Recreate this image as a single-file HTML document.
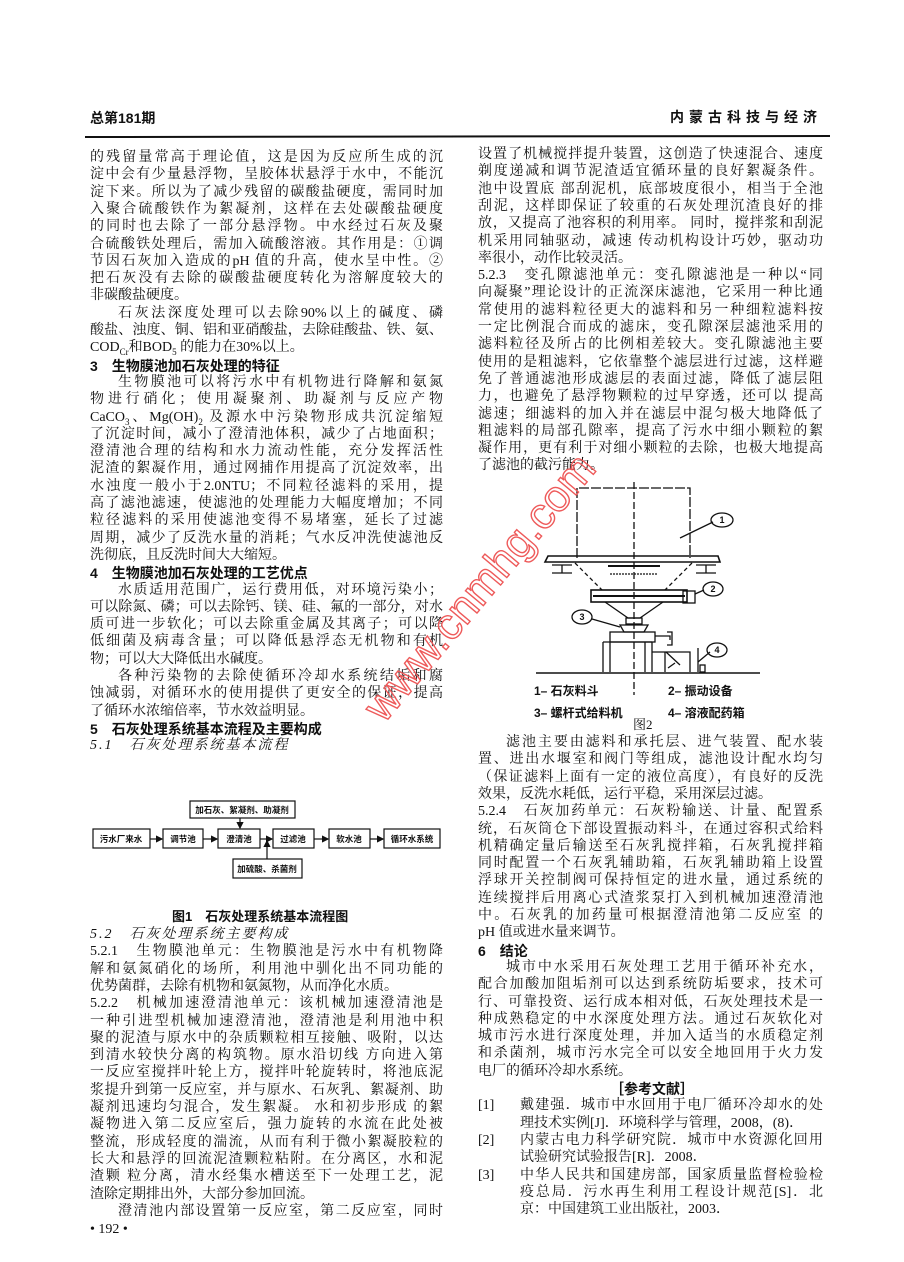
<!DOCTYPE html>
<html><head><meta charset="utf-8">
<style>
html,body{margin:0;padding:0;background:#fff;}
body{width:904px;height:1262px;position:relative;overflow:hidden;font-family:"Liberation Serif","Noto Serif CJK SC","Noto Sans CJK SC",serif;color:#111;}
.l{position:absolute;height:18px;line-height:18px;font-size:14px;white-space:nowrap;}
.L{left:90px;width:353px;}
.R{left:478px;width:345px;}
.j{text-align:justify;text-align-last:justify;}
.i{padding-left:28px;box-sizing:border-box;}
.b{font-weight:bold;font-family:"Liberation Sans","Noto Sans CJK SC",sans-serif;}
.k{font-style:italic;letter-spacing:2px;}
sub{font-size:9px;line-height:0;}
svg{position:absolute;left:0;top:0;}
.wm{position:absolute;left:354px;top:699px;font-family:"Liberation Sans",sans-serif;font-size:44px;line-height:50px;color:transparent;-webkit-text-stroke:1.4px #ee5a5a;transform:rotate(-50deg);transform-origin:left top;white-space:nowrap;}
</style></head><body>

<div class="l b" style="left:90px;top:109px;">总第181期</div>
<div class="l b" style="left:670px;top:108px;letter-spacing:5px;">内蒙古科技与经济</div>

<!-- Left column -->
<div class="l L j" style="top:149px">的残留量常高于理论值，这是因为反应所生成的沉</div>
<div class="l L j" style="top:166.3px">淀中会有少量悬浮物，呈胶体状悬浮于水中，不能沉</div>
<div class="l L j" style="top:183.6px">淀下来。所以为了减少残留的碳酸盐硬度，需同时加</div>
<div class="l L j" style="top:200.9px">入聚合硫酸铁作为絮凝剂，这样在去处碳酸盐硬度</div>
<div class="l L j" style="top:218.2px">的同时也去除了一部分悬浮物。中水经过石灰及聚</div>
<div class="l L j" style="top:235.5px">合硫酸铁处理后，需加入硫酸溶液。其作用是：①调</div>
<div class="l L j" style="top:252.8px">节因石灰加入造成的pH 值的升高，使水呈中性。②</div>
<div class="l L j" style="top:270.1px">把石灰没有去除的碳酸盐硬度转化为溶解度较大的</div>
<div class="l L" style="top:287.4px">非碳酸盐硬度。</div>
<div class="l L j i" style="top:304.7px">石灰法深度处理可以去除90%以上的碱度、磷</div>
<div class="l L j" style="top:322px">酸盐、浊度、铜、铝和亚硝酸盐，去除硅酸盐、铁、氨、</div>
<div class="l L" style="top:339.3px">COD<sub>Cr</sub>和BOD<sub>5</sub> 的能力在30%以上。</div>
<div class="l L b" style="top:356.6px">3　生物膜池加石灰处理的特征</div>
<div class="l L j i" style="top:373.9px">生物膜池可以将污水中有机物进行降解和氨氮</div>
<div class="l L j" style="top:391.2px">物进行硝化；使用凝聚剂、助凝剂与反应产物</div>
<div class="l L j" style="top:408.5px">CaCO<sub>3</sub>、Mg(OH)<sub>2</sub> 及源水中污染物形成共沉淀缩短</div>
<div class="l L j" style="top:425.8px">了沉淀时间，减小了澄清池体积，减少了占地面积；</div>
<div class="l L j" style="top:443.1px">澄清池合理的结构和水力流动性能，充分发挥活性</div>
<div class="l L j" style="top:460.4px">泥渣的絮凝作用，通过网捕作用提高了沉淀效率，出</div>
<div class="l L j" style="top:477.7px">水浊度一般小于2.0NTU；不同粒径滤料的采用，提</div>
<div class="l L j" style="top:495px">高了滤池滤速，使滤池的处理能力大幅度增加；不同</div>
<div class="l L j" style="top:512.3px">粒径滤料的采用使滤池变得不易堵塞，延长了过滤</div>
<div class="l L j" style="top:529.6px">周期，减少了反洗水量的消耗；气水反冲洗使滤池反</div>
<div class="l L" style="top:546.9px">洗彻底，且反洗时间大大缩短。</div>
<div class="l L b" style="top:564.2px">4　生物膜池加石灰处理的工艺优点</div>
<div class="l L j i" style="top:581.5px">水质适用范围广，运行费用低，对环境污染小；</div>
<div class="l L j" style="top:598.8px">可以除氮、磷；可以去除钙、镁、硅、氟的一部分，对水</div>
<div class="l L j" style="top:616.1px">质可进一步软化；可以去除重金属及其离子；可以降</div>
<div class="l L j" style="top:633.4px">低细菌及病毒含量；可以降低悬浮态无机物和有机</div>
<div class="l L" style="top:650.7px">物；可以大大降低出水碱度。</div>
<div class="l L j i" style="top:668px">各种污染物的去除使循环冷却水系统结垢和腐</div>
<div class="l L j" style="top:685.3px">蚀减弱，对循环水的使用提供了更安全的保证，提高</div>
<div class="l L" style="top:702.6px">了循环水浓缩倍率，节水效益明显。</div>
<div class="l L b" style="top:719.9px">5　石灰处理系统基本流程及主要构成</div>
<div class="l L k" style="top:737.2px">5.1　石灰处理系统基本流程</div>

<div class="l b" style="left:172px;top:908px;font-size:13px;">图1　石灰处理系统基本流程图</div>
<div class="l L k" style="top:926px">5.2　石灰处理系统主要构成</div>
<div class="l L j" style="top:943.3px">5.2.1　生物膜池单元：生物膜池是污水中有机物降</div>
<div class="l L j" style="top:960.6px">解和氨氮硝化的场所，利用池中驯化出不同功能的</div>
<div class="l L" style="top:977.9px">优势菌群，去除有机物和氨氮物，从而净化水质。</div>
<div class="l L j" style="top:995.2px">5.2.2　机械加速澄清池单元：该机械加速澄清池是</div>
<div class="l L j" style="top:1012.5px">一种引进型机械加速澄清池，澄清池是利用池中积</div>
<div class="l L j" style="top:1029.8px">聚的泥渣与原水中的杂质颗粒相互接触、吸附，以达</div>
<div class="l L j" style="top:1047.1px">到清水较快分离的构筑物。原水沿切线 方向进入第</div>
<div class="l L j" style="top:1064.4px">一反应室搅拌叶轮上方，搅拌叶轮旋转时，将池底泥</div>
<div class="l L j" style="top:1081.7px">浆提升到第一反应室，并与原水、石灰乳、絮凝剂、助</div>
<div class="l L j" style="top:1099px">凝剂迅速均匀混合，发生絮凝。 水和初步形成 的絮</div>
<div class="l L j" style="top:1116.3px">凝物进入第二反应室后，强力旋转的水流在此处被</div>
<div class="l L j" style="top:1133.6px">整流，形成轻度的湍流，从而有利于微小絮凝胶粒的</div>
<div class="l L j" style="top:1150.9px">长大和悬浮的回流泥渣颗粒粘附。在分离区，水和泥</div>
<div class="l L j" style="top:1168.2px">渣颗 粒分离，清水经集水槽送至下一处理工艺，泥</div>
<div class="l L" style="top:1185.5px">渣除定期排出外，大部分参加回流。</div>
<div class="l L j i" style="top:1202.8px">澄清池内部设置第一反应室，第二反应室，同时</div>
<div class="l" style="left:90px;top:1221px;">• 192 •</div>

<!-- Right column -->
<div class="l R j" style="top:146px">设置了机械搅拌提升装置，这创造了快速混合、速度</div>
<div class="l R j" style="top:163.3px">剃度递减和调节泥渣适宜循环量的良好絮凝条件。</div>
<div class="l R j" style="top:180.6px">池中设置底 部刮泥机，底部坡度很小，相当于全池</div>
<div class="l R j" style="top:197.9px">刮泥，这样即保证了较重的石灰处理沉渣良好的排</div>
<div class="l R j" style="top:215.2px">放，又提高了池容积的利用率。 同时，搅拌浆和刮泥</div>
<div class="l R j" style="top:232.5px">机采用同轴驱动，减速 传动机构设计巧妙，驱动功</div>
<div class="l R" style="top:249.8px">率很小，动作比较灵活。</div>
<div class="l R j" style="top:267.1px">5.2.3　变孔隙滤池单元：变孔隙滤池是一种以“同</div>
<div class="l R j" style="top:284.4px">向凝聚”理论设计的正流深床滤池，它采用一种比通</div>
<div class="l R j" style="top:301.7px">常使用的滤料粒径更大的滤料和另一种细粒滤料按</div>
<div class="l R j" style="top:319px">一定比例混合而成的滤床，变孔隙深层滤池采用的</div>
<div class="l R j" style="top:336.3px">滤料粒径及所占的比例相差较大。变孔隙滤池主要</div>
<div class="l R j" style="top:353.6px">使用的是粗滤料，它依靠整个滤层进行过滤，这样避</div>
<div class="l R j" style="top:370.9px">免了普通滤池形成滤层的表面过滤，降低了滤层阻</div>
<div class="l R j" style="top:388.2px">力，也避免了悬浮物颗粒的过早穿透，还可以 提高</div>
<div class="l R j" style="top:405.5px">滤速；细滤料的加入并在滤层中混匀极大地降低了</div>
<div class="l R j" style="top:422.8px">粗滤料的局部孔隙率，提高了污水中细小颗粒的絮</div>
<div class="l R j" style="top:440.1px">凝作用，更有利于对细小颗粒的去除，也极大地提高</div>
<div class="l R" style="top:457.4px">了滤池的截污能力。</div>

<div class="l b" style="left:534px;top:682px;font-size:12px;">1– 石灰料斗</div>
<div class="l b" style="left:668px;top:682px;font-size:12px;">2– 振动设备</div>
<div class="l b" style="left:534px;top:704px;font-size:12px;">3– 螺杆式给料机</div>
<div class="l b" style="left:668px;top:704px;font-size:12px;">4– 溶液配药箱</div>
<div class="l" style="left:633px;top:716px;font-size:13px;">图2</div>

<div class="l R j i" style="top:734px">滤池主要由滤料和承托层、进气装置、配水装</div>
<div class="l R j" style="top:751.3px">置、进出水堰室和阀门等组成，滤池设计配水均匀</div>
<div class="l R j" style="top:768.6px">（保证滤料上面有一定的液位高度），有良好的反洗</div>
<div class="l R" style="top:785.9px">效果，反洗水耗低，运行平稳，采用深层过滤。</div>
<div class="l R j" style="top:803.2px">5.2.4　石灰加药单元：石灰粉输送、计量、配置系</div>
<div class="l R j" style="top:820.5px">统，石灰筒仓下部设置振动料斗，在通过容积式给料</div>
<div class="l R j" style="top:837.8px">机精确定量后输送至石灰乳搅拌箱，石灰乳搅拌箱</div>
<div class="l R j" style="top:855.1px">同时配置一个石灰乳辅助箱，石灰乳辅助箱上设置</div>
<div class="l R j" style="top:872.4px">浮球开关控制阀可保持恒定的进水量，通过系统的</div>
<div class="l R j" style="top:889.7px">连续搅拌后用离心式渣浆泵打入到机械加速澄清池</div>
<div class="l R j" style="top:907px">中。石灰乳的加药量可根据澄清池第二反应室 的</div>
<div class="l R" style="top:924.3px">pH 值或进水量来调节。</div>
<div class="l R b" style="top:941.6px">6　结论</div>
<div class="l R j i" style="top:958.9px">城市中水采用石灰处理工艺用于循环补充水，</div>
<div class="l R j" style="top:976.2px">配合加酸加阻垢剂可以达到系统防垢要求，技术可</div>
<div class="l R j" style="top:993.5px">行、可靠投资、运行成本相对低，石灰处理技术是一</div>
<div class="l R j" style="top:1010.8px">种成熟稳定的中水深度处理方法。通过石灰软化对</div>
<div class="l R j" style="top:1028.1px">城市污水进行深度处理，并加入适当的水质稳定剂</div>
<div class="l R j" style="top:1045.4px">和杀菌剂，城市污水完全可以安全地回用于火力发</div>
<div class="l R" style="top:1062.7px">电厂的循环冷却水系统。</div>
<div class="l b" style="left:610px;top:1080px;">［参考文献］</div>
<div class="l" style="left:478px;top:1097.3px">[1]</div>
<div class="l j" style="left:520px;width:303px;top:1097.3px">戴建强．城市中水回用于电厂循环冷却水的处</div>
<div class="l" style="left:520px;top:1114.6px">理技术实例[J]．环境科学与管理，2008，(8)．</div>
<div class="l" style="left:478px;top:1131.9px">[2]</div>
<div class="l j" style="left:520px;width:303px;top:1131.9px">内蒙古电力科学研究院．城市中水资源化回用</div>
<div class="l" style="left:520px;top:1149.2px">试验研究试验报告[R]．2008．</div>
<div class="l" style="left:478px;top:1166.5px">[3]</div>
<div class="l j" style="left:520px;width:303px;top:1166.5px">中华人民共和国建房部，国家质量监督检验检</div>
<div class="l j" style="left:520px;width:303px;top:1183.8px">疫总局．污水再生利用工程设计规范[S]．北</div>
<div class="l" style="left:520px;top:1201.1px">京：中国建筑工业出版社，2003．</div>

<svg width="904" height="1262" viewBox="0 0 904 1262">
<defs><marker id="a" markerWidth="6" markerHeight="6" refX="5" refY="3" orient="auto"><path d="M0,0 L6,3 L0,6 z" fill="#111"/></marker></defs>
<line x1="85" y1="137" x2="830" y2="136" stroke="#111" stroke-width="2"/>
<!-- Flowchart -->
<g stroke="#111" stroke-width="1.2" fill="none">
<rect x="190" y="801" width="105" height="17"/>
<rect x="93" y="829" width="57" height="19"/>
<rect x="163" y="829" width="40" height="19"/>
<rect x="218" y="829" width="42" height="19"/>
<rect x="273" y="829" width="41" height="19"/>
<rect x="329" y="829" width="41" height="19"/>
<rect x="384" y="829" width="56" height="19"/>
<rect x="233" y="859" width="69" height="19"/>
<line x1="150" y1="839" x2="162" y2="839" marker-end="url(#a)"/>
<line x1="203" y1="839" x2="217" y2="839" marker-end="url(#a)"/>
<line x1="260" y1="839" x2="272" y2="839" marker-end="url(#a)"/>
<line x1="314" y1="839" x2="328" y2="839" marker-end="url(#a)"/>
<line x1="370" y1="839" x2="383" y2="839" marker-end="url(#a)"/>
<line x1="240" y1="818" x2="240" y2="828" marker-end="url(#a)"/>
<line x1="267" y1="859" x2="267" y2="841" marker-end="url(#a)"/>
</g>
<g font-family="Liberation Sans,Noto Sans CJK SC,sans-serif" font-size="8.5" font-weight="bold" fill="#111" text-anchor="middle">
<text x="242" y="813">加石灰、絮凝剂、助凝剂</text>
<text x="121" y="842">污水厂来水</text>
<text x="183" y="842">调节池</text>
<text x="239" y="842">澄清池</text>
<text x="293" y="842">过滤池</text>
<text x="349" y="842">软水池</text>
<text x="412" y="842">循环水系统</text>
<text x="267" y="872">加硫酸、杀菌剂</text>
</g>
<!-- Figure 2 -->
<g stroke="#111" stroke-width="1.3" fill="none">
<line x1="634" y1="482" x2="634" y2="695" stroke-dasharray="7,3"/>
<path d="M577,558 L577,488 L690,488 L690,558" stroke-dasharray="10,2"/>
<path d="M548,556 L718,556 L720,562 L545,562 Z" stroke-width="1.6"/>
<path d="M552,565 L572,565 M562,565 L562,573 M552,573 L572,573"/>
<path d="M696,565 L716,565 M706,565 L706,573 M696,573 L716,573"/>
<line x1="575" y1="563" x2="602" y2="590" stroke-dasharray="4,3"/>
<line x1="692" y1="563" x2="665" y2="590" stroke-dasharray="4,3"/>
<line x1="608" y1="566" x2="660" y2="566" stroke-width="2"/>
<line x1="610" y1="574" x2="658" y2="574" stroke-dasharray="2,1"/>
<rect x="591" y="590" width="96" height="12" stroke-width="1.6"/>
<line x1="593" y1="596" x2="685" y2="596" stroke-width="2"/>
<rect x="683" y="591" width="12" height="12"/>
<path d="M605,602 L628,618 L640,618 L663,602"/>
<rect x="626" y="618" width="16" height="6"/>
<path d="M620,625 L648,625 L644,632 L624,632 Z"/>
<rect x="610" y="632" width="45" height="10"/>
<path d="M655,636 L670,636 L670,640 M667,632 L672,632 L672,645 L667,645"/>
<path d="M603,642 L603,672 M610,642 L610,672 M645,642 L645,672 M652,642 L652,672 M603,642 L652,642"/>
<path d="M652,652 L665,652 L665,672 M665,652 L690,652 L690,672"/>
<line x1="666" y1="652" x2="680" y2="665"/>
<line x1="675" y1="663" x2="668" y2="668"/>
<line x1="698" y1="648" x2="698" y2="672"/>
<rect x="700" y="665" width="5" height="7"/>
<line x1="536" y1="673" x2="760" y2="673" stroke-width="1.6"/>
<line x1="680" y1="538" x2="713" y2="522"/>
<ellipse cx="722" cy="520" rx="11" ry="7"/>
<line x1="695" y1="594" x2="704" y2="590"/>
<ellipse cx="713" cy="589" rx="10" ry="7"/>
<line x1="620" y1="627" x2="592" y2="619"/>
<ellipse cx="582" cy="617" rx="10" ry="7"/>
<line x1="698" y1="662" x2="710" y2="652"/>
<ellipse cx="717" cy="650" rx="10" ry="7"/>
</g>
<g font-family="Liberation Sans,sans-serif" font-size="9" font-weight="bold" fill="#111" text-anchor="middle">
<text x="722" y="523">1</text><text x="713" y="592">2</text><text x="582" y="620">3</text><text x="717" y="653">4</text>
</g>
</svg>

<div class="wm">www.cnmhg.com</div>
</body></html>
